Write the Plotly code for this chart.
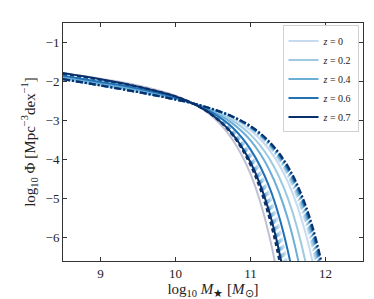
import plotly.graph_objects as go

# log10 stellar mass grid (read positions)
log_mass = [8.5, 9.0, 9.5, 10.0, 10.25, 10.5, 10.75, 11.0, 11.25, 11.5, 11.75, 12.0, 12.25]

redshifts = ["0", "0.2", "0.4", "0.6", "0.7"]
colors = ["#c6dbef", "#9ecae1", "#6baed6", "#2171b5", "#08306b"]

# reference (grey) curve
phi_grey = [-1.79, -1.93, -2.10, -2.36, -2.58, -2.91, -3.46, -4.37, -5.95, -8.70, -13.54]

# lower-bound curves (dashed), one per redshift
phi_dashed = [
    [-1.86, -2.01, -2.18, -2.41, -2.58, -2.82, -3.21, -3.84, -4.91, -6.75, -9.98, -15.66],
    [-1.85, -2.00, -2.17, -2.40, -2.58, -2.84, -3.24, -3.92, -5.05, -7.02, -10.47, -16.55],
    [-1.83, -1.98, -2.15, -2.39, -2.58, -2.85, -3.28, -4.00, -5.21, -7.32, -11.01, -17.52],
    [-1.81, -1.96, -2.14, -2.39, -2.58, -2.87, -3.32, -4.08, -5.38, -7.63, -11.58, -18.56],
    [-1.80, -1.95, -2.13, -2.38, -2.58, -2.88, -3.35, -4.15, -5.50, -7.86, -11.99, -19.29],
]

# median curves (solid)
phi_solid = [
    [-1.95, -2.10, -2.27, -2.45, -2.57, -2.72, -2.93, -3.25, -3.75, -4.58, -6.00, -8.47, -12.80],
    [-1.93, -2.08, -2.25, -2.44, -2.57, -2.74, -2.99, -3.36, -3.97, -5.00, -6.77, -9.86, -15.29],
    [-1.90, -2.05, -2.22, -2.43, -2.57, -2.77, -3.06, -3.51, -4.26, -5.53, -7.74, -11.61, -18.42],
    [-1.85, -2.01, -2.18, -2.41, -2.58, -2.81, -3.16, -3.74, -4.70, -6.36, -9.25, -14.32],
    [-1.78, -1.94, -2.13, -2.38, -2.58, -2.87, -3.32, -4.07, -5.34, -7.55, -11.42, -18.24],
]

# upper-bound curves (dash-dot)
phi_dashdot = [
    [-1.93, -2.09, -2.26, -2.45, -2.57, -2.72, -2.92, -3.21, -3.67, -4.42, -5.70, -7.91, -11.78],
    [-1.93, -2.09, -2.26, -2.45, -2.57, -2.71, -2.91, -3.19, -3.63, -4.36, -5.58, -7.70, -11.40],
    [-1.93, -2.10, -2.27, -2.46, -2.57, -2.71, -2.90, -3.18, -3.60, -4.30, -5.47, -7.50, -11.04],
    [-1.94, -2.10, -2.27, -2.46, -2.57, -2.71, -2.89, -3.16, -3.57, -4.24, -5.36, -7.30, -10.68],
    [-1.94, -2.10, -2.27, -2.46, -2.57, -2.71, -2.89, -3.14, -3.54, -4.18, -5.26, -7.11, -10.34],
]

x_ticks = [9, 10, 11, 12]
y_ticks = [-1, -2, -3, -4, -5, -6]

SERIF = "Liberation Serif, Times New Roman, serif"

fig = go.Figure()

fig.add_trace(go.Scatter(
    x=log_mass[:len(phi_grey)], y=phi_grey, mode="lines",
    line=dict(color="rgba(170,170,195,0.75)", width=2, shape="spline"),
    showlegend=False, hoverinfo="skip"))

for i, z in enumerate(redshifts):
    c = colors[i]
    fig.add_trace(go.Scatter(
        x=log_mass[:len(phi_solid[i])], y=phi_solid[i], mode="lines",
        line=dict(color=c, width=2, shape="spline"),
        name=f"<i>z</i> = {z}", showlegend=True))
    fig.add_trace(go.Scatter(
        x=log_mass[:len(phi_dashed[i])], y=phi_dashed[i], mode="lines",
        line=dict(color=c, width=2, dash="4px,3px", shape="spline"),
        showlegend=False))
    fig.add_trace(go.Scatter(
        x=log_mass[:len(phi_dashdot[i])], y=phi_dashdot[i], mode="lines",
        line=dict(color=c, width=2.2, dash="7px,2px,2px,2px", shape="spline"),
        showlegend=False))

fig.update_layout(
    width=374, height=299,
    margin=dict(l=55, r=19, t=15, b=46),
    paper_bgcolor="white", plot_bgcolor="white",
    font=dict(family=SERIF, size=14, color="#222"),
    legend=dict(x=0.985, y=0.99, xanchor="right", yanchor="top",
                bgcolor="rgba(255,255,255,0.9)", bordercolor="#d0d0d0", borderwidth=1,
                font=dict(family=SERIF, size=10, color="#222"),
                itemwidth=30, tracegroupgap=0),
)

fig.update_xaxes(
    range=[8.5, 12.5], tickvals=x_ticks, ticktext=[str(t) for t in x_ticks],
    ticks="inside", ticklen=4, tickcolor="#333", mirror="ticks",
    showline=True, linecolor="#333", linewidth=1, showgrid=False, zeroline=False,
    title=dict(text="log<sub>10</sub> <i>M</i><sub>★</sub> [<i>M</i><sub>⊙</sub>]",
               font=dict(family=SERIF, size=15), standoff=0),
    tickfont=dict(family=SERIF, size=13),
)
fig.update_yaxes(
    range=[-6.6, -0.5], tickvals=y_ticks,
    ticks="inside", ticklen=4, tickcolor="#333", mirror="ticks",
    showline=True, linecolor="#333", linewidth=1, showgrid=False, zeroline=False,
    title=dict(text="log<sub>10</sub> Φ [Mpc<sup>−3</sup>dex<sup>−1</sup>]",
               font=dict(family=SERIF, size=15), standoff=6),
    tickfont=dict(family=SERIF, size=13),
)

fig.write_html("out.html")
